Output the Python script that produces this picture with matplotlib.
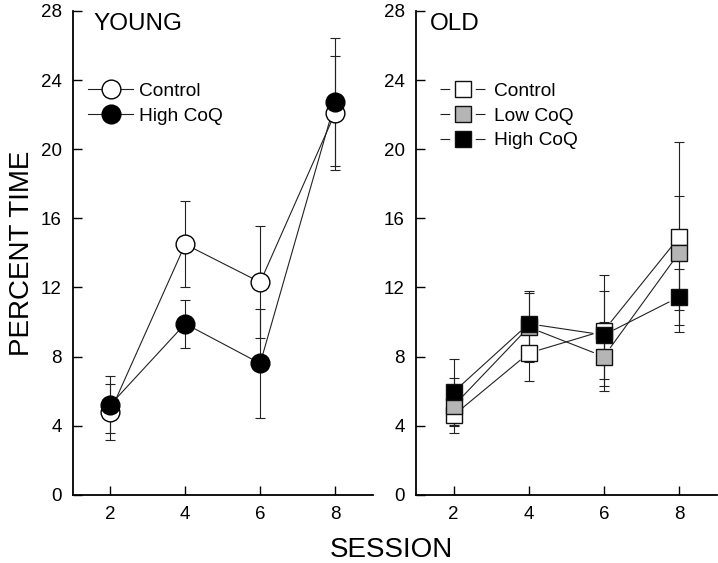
import matplotlib
matplotlib.use("Agg")
import matplotlib.pyplot as plt
from matplotlib.lines import Line2D

plt.rcParams['font.family'] = ['Liberation Sans', 'DejaVu Sans']
plt.rcParams['lines.scale_dashes'] = False

sessions = [2, 4, 6, 8]

young_control = [4.8, 14.5, 12.3, 22.1]
young_control_err = [1.6, 2.5, 3.25, 3.3]
young_high = [5.2, 9.9, 7.6, 22.75]
young_high_err = [1.65, 1.4, 3.15, 3.7]

old_control = [4.6, 8.2, 9.5, 14.9]
old_control_err = [0.6, 1.6, 3.2, 5.5]
old_low = [5.15, 9.7, 8.0, 14.0]
old_low_err = [1.6, 2.0, 2.0, 3.3]
old_high = [5.95, 9.9, 9.25, 11.45]
old_high_err = [1.9, 1.9, 2.55, 1.6]

yticks = [0, 4, 8, 12, 16, 20, 24, 28]
xticks = [2, 4, 6, 8]

fig = plt.figure(figsize=(7.18, 5.63), dpi=100)
axL = fig.add_axes([0.1013, 0.1211, 0.4177, 0.8594])
axR = fig.add_axes([0.5794, 0.1211, 0.4186, 0.8594])

LW = 0.8
for ax in (axL, axR):
    ax.set_xlim(1, 9)
    ax.set_ylim(0, 28)
    ax.set_xticks(xticks)
    ax.set_yticks(yticks)
    for s in ('top', 'right'):
        ax.spines[s].set_visible(False)
    for s in ('left', 'bottom'):
        ax.spines[s].set_linewidth(1.3)
    ax.tick_params(direction='in', length=6.5, width=1.0, labelsize=13.5, pad=8)

# YOUNG
axL.errorbar(sessions, young_control, yerr=young_control_err, fmt='none', ecolor='#222222',
             elinewidth=LW, capsize=3.6, capthick=LW, zorder=1)
axL.errorbar(sessions, young_high, yerr=young_high_err, fmt='none', ecolor='#222222',
             elinewidth=LW, capsize=3.6, capthick=LW, zorder=1)
axL.plot(sessions, young_control, '-', color='#222222', lw=LW, zorder=2)
axL.plot(sessions, young_high, '-', color='#222222', lw=LW, zorder=2)
axL.plot(sessions, young_control, 'o', ms=13.5, mfc='white', mec='black', mew=1.0, zorder=3, ls='none')
axL.plot(sessions, young_high, 'o', ms=13.5, mfc='black', mec='black', mew=1.0, zorder=4, ls='none')
axL.text(0.068, 0.973, 'YOUNG', transform=axL.transAxes, fontsize=17.5, va='center', ha='left')

hY = [Line2D([], [], color='#222222', lw=LW, marker='o', ms=13.5, mfc='white', mec='black', mew=1.0),
      Line2D([], [], color='#222222', lw=LW, marker='o', ms=13.5, mfc='black', mec='black', mew=1.0)]
axL.legend(hY, ['Control', 'High CoQ'], loc='upper left', bbox_to_anchor=(0.052, 0.852),
           frameon=False, fontsize=13.8, handlelength=2.35, handletextpad=0.3,
           labelspacing=0.38, borderpad=0, borderaxespad=0)

# OLD
series = [(old_control, old_control_err, 'white', 3),
          (old_low, old_low_err, '#b5b5b5', 4),
          (old_high, old_high_err, 'black', 5)]
for vals, errs, fc, z in series:
    axR.errorbar(sessions, vals, yerr=errs, fmt='none', ecolor='#222222',
                 elinewidth=LW, capsize=3.6, capthick=LW, zorder=1)
for vals, errs, fc, z in series:
    for i in range(len(sessions) - 1):
        axR.annotate('', xy=(sessions[i + 1], vals[i + 1]), xytext=(sessions[i], vals[i]),
                     arrowprops=dict(arrowstyle='-', color='#222222', lw=LW,
                                     shrinkA=8, shrinkB=8), zorder=2)
    axR.plot(sessions, vals, 's', ms=11.5, mfc=fc, mec='#111111', mew=1.0, ls='none', zorder=z)
axR.text(0.045, 0.973, 'OLD', transform=axR.transAxes, fontsize=17.5, va='center', ha='left')

hO = [Line2D([], [], color='#222222', lw=LW, dashes=(7, 18.4), marker='s', ms=11.5,
             mfc=fc, mec='#111111', mew=1.0) for _, _, fc, _ in series]
axR.legend(hO, ['Control', 'Low CoQ', 'High CoQ'], loc='upper left', bbox_to_anchor=(0.08, 0.852),
           frameon=False, fontsize=13.8, handlelength=2.35, handletextpad=0.45,
           labelspacing=0.38, borderpad=0, borderaxespad=0)

fig.text(22 / 718, 0.55, 'PERCENT TIME', rotation=90, fontsize=20, ha='center', va='center')
fig.text(391 / 718, 1 - 550 / 563, 'SESSION', fontsize=20, ha='center', va='center')

fig.savefig('out.png', dpi=100)
